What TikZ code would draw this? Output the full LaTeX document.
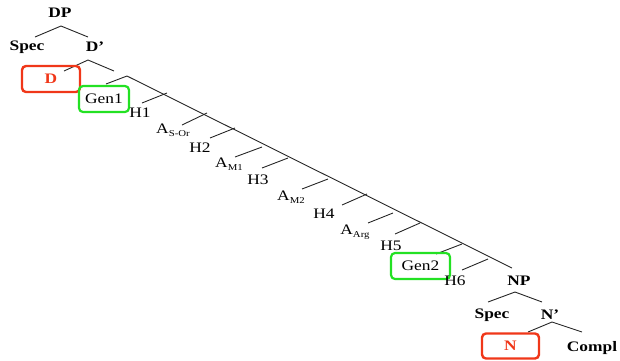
\documentclass[tikz,border=0pt]{standalone}
\usepackage{fontspec}
\setmainfont{Liberation Serif}[FakeStretch=1.2]
\definecolor{boxred}{RGB}{240,55,25}
\definecolor{boxgreen}{RGB}{35,225,35}
\newcommand\subtxt[1]{\raisebox{-2.8pt}{\fontsize{9}{10}\selectfont #1}}
\begin{document}
\begin{tikzpicture}[x=1pt,y=-1pt,
  lbl/.style={inner sep=0pt, font=\fontsize{14.5}{15}\selectfont},
  cat/.style={inner sep=0pt, font=\fontsize{14.5}{15}\selectfont\bfseries},
  br/.style={draw=black!85, line width=0.9pt},
  redbox/.style={draw=boxred, line width=2.4pt, rounded corners=4pt, text=boxred,
    font=\fontsize{14.5}{15}\selectfont\bfseries, inner sep=0pt},
  greenbox/.style={draw=boxgreen, line width=2.2pt, rounded corners=4pt,
    font=\fontsize{14.5}{15}\selectfont, inner sep=0pt}]
\useasboundingbox (0,0) rectangle (620,360);

% DP and its daughters
\node[cat] (dp) at (60,13) {DP};
\node[cat] (spec1) at (27,47) {Spec};
\node[cat] (dbar) at (95,47) {D’};
\coordinate (dpTop) at (61,26);
\coordinate (dpL) at (35,37);
\coordinate (dpR) at (88,37);
\draw[br] (dpL) -- (dpTop) -- (dpR);

% D' branches
\coordinate (dbTop) at (88,60);
\coordinate (dbL) at (64,71);
\coordinate (dbR) at (114,71);
\draw[br] (dbL) -- (dbTop) -- (dbR);

\node[redbox, minimum width=58pt, minimum height=26pt] (d) at (51,79) {D};
\node[greenbox, minimum width=50pt, minimum height=26pt] (gen1) at (104,99) {Gen1};

% the long spine
\coordinate (spL) at (106,84);
\coordinate (spTop) at (127,76);
\coordinate (spEnd) at (512,268);
\draw[br] (spL) -- (spTop) -- (spEnd);

% short left branches along the spine
\foreach \nm/\xa/\ya/\xb/\yb in {
  h1/142/103/167/93, as/182/125/207/113, h2/210/138/235/128,
  am1/235/157/262/147, h3/262/168/288/158, am2/302/189/328/179,
  h4/342/205/367/194, aarg/368/223/393/213, h5/395/234/420/223,
  gtwo/436/254/462/244, h6/462/270/488/259}{
  \coordinate (\nm-a) at (\xa,\ya);
  \coordinate (\nm-b) at (\xb,\yb);
  \draw[br] (\nm-a) -- (\nm-b);
}

% labels of the heads and adjuncts
\node[lbl] (H1) at (140,113) {H1};
\node[lbl] (AS) at (173,130) {A\subtxt{S-Or}};
\node[lbl] (H2) at (200,148) {H2};
\node[lbl] (AM1) at (229,164) {A\subtxt{M1}};
\node[lbl] (H3) at (258,180) {H3};
\node[lbl] (AM2) at (291,197) {A\subtxt{M2}};
\node[lbl] (H4) at (324,214) {H4};
\node[lbl] (AArg) at (355,232) {A\subtxt{Arg}};
\node[lbl] (H5) at (391,246) {H5};
\node[greenbox, minimum width=59pt, minimum height=26pt] (gen2) at (420.5,266) {Gen2};
\node[lbl] (H6) at (455,281) {H6};

% NP subtree
\node[cat] (np) at (519,281) {NP};
\coordinate (npTop) at (515,292);
\coordinate (npL) at (488,302);
\coordinate (npR) at (542,302);
\draw[br] (npL) -- (npTop) -- (npR);
\node[cat] (spec2) at (492,315) {Spec};
\node[cat] (nbar) at (550,315) {N’};
\coordinate (nbTop) at (552,322);
\coordinate (nbL) at (528,332);
\coordinate (nbR) at (582,332);
\draw[br] (nbL) -- (nbTop) -- (nbR);
\node[redbox, minimum width=57pt, minimum height=25pt] (n) at (510.5,346) {N};
\node[cat] (compl) at (592,348) {Compl};
\end{tikzpicture}
\end{document}
